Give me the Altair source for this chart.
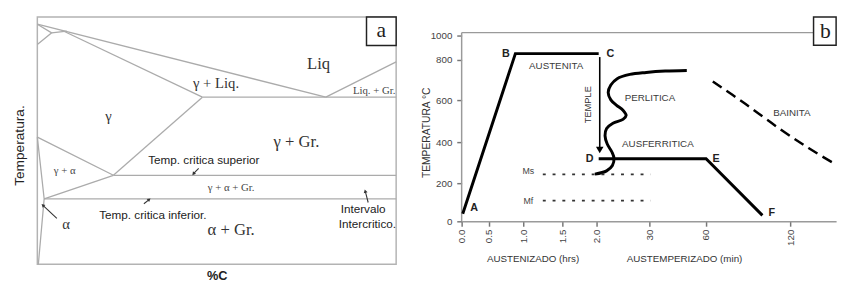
import altair as alt
import pandas as pd

SANS = "Liberation Sans"
SERIF = "Liberation Serif"

# ================= Panel a : Fe-C (graphite) phase diagram, schematic =================
# x = %C, y = temperature (schematic units)
A_LINES = {
    "liquidus":    ([0.00, 4.02], [1565, 1211]),
    "liq_grafito": ([4.02, 5.00], [1211, 1382]),
    "eutectica":   ([2.30, 5.00], [1211, 1211]),
    "delta":       ([0.00, 0.20, 0.00], [1565, 1523, 1467]),
    "peritectica": ([0.20, 0.41], [1523, 1531]),
    "solidus":     ([0.37, 2.30], [1531, 1211]),
    "acm":         ([2.30, 1.06], [1211, 832]),
    "a3":          ([0.00, 1.06], [1017, 832]),
    "critica_sup": ([1.06, 5.00], [832, 832]),
    "gamma_alfa":  ([1.06, 0.095], [832, 718]),
    "critica_inf": ([0.095, 5.00], [718, 718]),
    "solvus_alfa": ([0.00, 0.095, 0.014], [1017, 718, 400]),
}

A_BIG_TEXT = ["Liq", "γ + Gr.", "α + Gr."]
A_BIG_X = [3.92, 3.61, 2.70]
A_BIG_Y = [1372, 993, 566]

A_MID_TEXT = ["γ + Liq.", "γ", "α"]
A_MID_X = [2.49, 0.99, 0.40]
A_MID_Y = [1277, 1121, 594]

A_SMALL_TEXT = ["γ + α", "γ + α + Gr."]
A_SMALL_X = [0.38, 2.70]
A_SMALL_Y = [851, 770]

A_EDGE_TEXT = ["Liq. + Gr."]
A_EDGE_X = [4.99]
A_EDGE_Y = [1240]

A_SANS_TEXT = ["Temp. critica superior", "Temp. critica inferior.", "Intervalo", "Intercritico."]
A_SANS_X = [2.32, 1.61, 4.54, 4.60]
A_SANS_Y = [907, 637, 666, 594]

A_ARROW_TAIL_X = [0.272, 2.248, 1.485, 4.610]
A_ARROW_TAIL_Y = [623, 865, 694, 700]
A_ARROW_HEAD_X = [0.082, 2.180, 1.553, 4.571]
A_ARROW_HEAD_Y = [685, 841, 713, 753]
A_ARROW_ANGLE = [313, 219, 51, 345]

A_BOX_X = [4.587, 5.0]
A_BOX_Y = [1462, 1600]
A_BOX_LABEL = "a"

# ================= Panel b : heat treatment cycle =================
B_TICK_LABELS = ["0.0", "0.5", "1.0", "1.5", "2.0", "30", "60", "120"]
B_Y_TICKS = [0, 200, 400, 600, 800, 1000]

B_ABC_X = [0.04, 1.77, 4.04]
B_ABC_Y = [40, 852, 852]
B_DEF_X = [4.04, 6.00, 6.67]
B_DEF_Y = [319, 319, 31]

B_CURVE_X = [3.95, 4.19, 4.30, 4.33, 4.29, 4.20, 4.16, 4.19, 4.31, 4.50, 4.56,
             4.50, 4.38, 4.27, 4.22, 4.27, 4.39, 4.63, 4.94, 5.28, 5.66]
B_CURVE_Y = [244, 260, 286, 321, 352, 392, 431, 465, 490, 508, 527,
             552, 575, 601, 638, 675, 707, 728, 738, 745, 748]

B_BAINITA_X = [6.08, 6.47, 6.87, 7.22, 7.55]
B_BAINITA_Y = [693, 581, 465, 371, 290]

B_MS_X = [2.50, 5.02]
B_MS_Y = 243
B_MF_Y = 108

B_TEMPLE_X = 4.06
B_TEMPLE_Y = [824, 362]

B_POINT_TEXT = ["A", "B", "C", "D", "E", "F"]
B_POINT_X = [0.46, 1.49, 4.26, 3.80, 6.12, 6.78]
B_POINT_Y = [67, 848, 848, 319, 319, 41]

B_LABEL_TEXT = ["AUSTENITA", "PERLITICA", "AUSFERRITICA", "BAINITA"]
B_LABEL_X = [2.84, 5.01, 5.15, 7.02]
B_LABEL_Y = [772, 610, 390, 540]

B_M_TEXT = ["Ms", "Mf"]
B_M_X = [2.13, 2.13]
B_M_Y = [257, 108]

B_XTITLE_TEXT = ["AUSTENIZADO (hrs)", "AUSTEMPERIZADO (min)"]
B_XTITLE_X = [2.25, 5.62]

B_TOP_Y = 1024
B_BOX_X = [7.28, 7.55]
B_BOX_Y = [920, 1152]
B_BOX_LABEL = "b"

# ---------------- build panel a ----------------
rows = []
for name, (xs, ys) in A_LINES.items():
    for i, (x, y) in enumerate(zip(xs, ys)):
        rows.append({"seg": name, "i": i, "x": x, "y": y})
a_lines_df = pd.DataFrame(rows)

xa = alt.Scale(domain=[0, 5], nice=False, zero=False)
ya = alt.Scale(domain=[400, 1600], nice=False, zero=False)

XA = alt.X("x:Q", scale=xa, axis=alt.Axis(title="%C", labels=False, ticks=False, domain=False,
                                           grid=False, titleFont=SANS, titleFontSize=13,
                                           titleFontWeight="bold", titleColor="#222", titlePadding=6))
YA = alt.Y("y:Q", scale=ya, axis=alt.Axis(title="Temperatura.", labels=False, ticks=False, domain=False,
                                           grid=False, titleFont=SANS, titleFontSize=14,
                                           titleFontWeight="normal", titleColor="#222",
                                           titleX=-11, titleY=131, titleAngle=270,
                                           titleBaseline="bottom", titleAlign="center"))

a_lines = alt.Chart(a_lines_df).mark_line(color="#ababab", strokeWidth=1.3).encode(
    x=XA, y=YA, detail="seg:N", order="i:Q")


def text_layer(texts, xs, ys, xs_, ys_, **kw):
    df = pd.DataFrame({"t": texts, "x": xs, "y": ys})
    return alt.Chart(df).mark_text(**kw).encode(x=xs_, y=ys_, text="t:N")


xa_plain = alt.X("x:Q", scale=xa)
ya_plain = alt.Y("y:Q", scale=ya)

a_big = text_layer(A_BIG_TEXT, A_BIG_X, A_BIG_Y, xa_plain, ya_plain, font=SERIF, fontSize=17, color="#333")
a_mid = text_layer(A_MID_TEXT, A_MID_X, A_MID_Y, xa_plain, ya_plain, font=SERIF, fontSize=15, color="#333")
a_small = text_layer(A_SMALL_TEXT, A_SMALL_X, A_SMALL_Y, xa_plain, ya_plain, font=SERIF, fontSize=11, color="#444")
a_edge = text_layer(A_EDGE_TEXT, A_EDGE_X, A_EDGE_Y, xa_plain, ya_plain, font=SERIF, fontSize=11,
                    color="#444", align="right")
a_sans = text_layer(A_SANS_TEXT, A_SANS_X, A_SANS_Y, xa_plain, ya_plain, font=SANS, fontSize=12, color="#222")

arrow_df = pd.DataFrame({"x": A_ARROW_TAIL_X, "y": A_ARROW_TAIL_Y,
                         "x2": A_ARROW_HEAD_X, "y2": A_ARROW_HEAD_Y, "ang": A_ARROW_ANGLE})
a_arrow_lines = alt.Chart(arrow_df).mark_rule(color="#333", strokeWidth=1.1).encode(
    x=xa_plain, y=ya_plain, x2="x2:Q", y2="y2:Q")
a_arrow_heads = alt.Chart(arrow_df).mark_point(shape="triangle", filled=True, size=16, color="#333",
                                               opacity=1).encode(
    x=alt.X("x2:Q", scale=xa), y=alt.Y("y2:Q", scale=ya), angle=alt.Angle("ang:Q", scale=None))

abox_df = pd.DataFrame({"x": [A_BOX_X[0]], "x2": [A_BOX_X[1]], "y": [A_BOX_Y[0]], "y2": [A_BOX_Y[1]],
                        "t": [A_BOX_LABEL], "cx": [sum(A_BOX_X) / 2], "cy": [sum(A_BOX_Y) / 2]})
a_box = alt.Chart(abox_df).mark_rect(fill="white", stroke="#222", strokeWidth=1.5).encode(
    x=xa_plain, x2="x2:Q", y=ya_plain, y2="y2:Q")
a_box_t = alt.Chart(abox_df).mark_text(font=SERIF, fontSize=22, color="#222", baseline="middle", dy=-1).encode(
    x=alt.X("cx:Q", scale=xa), y=alt.Y("cy:Q", scale=ya), text="t:N")

panel_a = alt.layer(a_lines, a_big, a_mid, a_small, a_edge, a_sans, a_arrow_lines, a_arrow_heads,
                    a_box, a_box_t).properties(
    width=367, height=253,
    view=alt.ViewBackground(stroke="#b3b3b3", strokeWidth=1.5))

# ---------------- build panel b ----------------
XB_DOMAIN = [0, 1, 2, 3, 4, 5, 6, 7, 7.55]
XB_RANGE = [0, 28, 63, 103, 138, 192, 250, 336, 383]
YB_DOMAIN = [0, 200, 400, 600, 800, 1000, 1152]
YB_RANGE = [209, 170, 128, 85, 44, 19, 0]

xb = alt.Scale(type="linear", domain=XB_DOMAIN, range=XB_RANGE, nice=False, zero=False)
yb = alt.Scale(type="linear", domain=YB_DOMAIN, range=YB_RANGE, nice=False, zero=False)

label_expr = "[" + ",".join("'%s'" % t for t in B_TICK_LABELS) + "][datum.value]"

XB = alt.X("x:Q", scale=xb, title=None,
           axis=alt.Axis(values=list(range(len(B_TICK_LABELS))), labelExpr=label_expr, labelAngle=270,
                         labelFont=SANS, labelFontSize=10, labelColor="#444", labelPadding=3,
                         tickSize=5, tickColor="#777", tickWidth=1.5, domainColor="#9a9a9a",
                         domainWidth=1.5, grid=False))
YB = alt.Y("y:Q", scale=yb,
           axis=alt.Axis(values=B_Y_TICKS, format="d", title="TEMPERATURA °C", titleFont=SANS,
                         titleFontSize=10.5, titleFontWeight="normal", titleColor="#333",
                         titleX=-31, titleY=118, titleAngle=270, titleBaseline="bottom",
                         titleAlign="center", labelFont=SANS, labelFontSize=10, labelColor="#444",
                         labelPadding=5, tickSize=5, tickColor="#777", tickWidth=1.5, domain=False,
                         grid=False))

xb_plain = alt.X("x:Q", scale=xb)
yb_plain = alt.Y("y:Q", scale=yb)


def path_df(xs, ys):
    return pd.DataFrame({"x": xs, "y": ys, "i": list(range(len(xs)))})


b_frame_left = alt.Chart(pd.DataFrame({"x": [0], "y": [0], "y2": [B_TOP_Y]})).mark_rule(
    color="#9a9a9a", strokeWidth=1.5).encode(x=XB, y=YB, y2="y2:Q")
b_frame_top = alt.Chart(pd.DataFrame({"x": [0], "x2": [B_BOX_X[0]], "y": [B_TOP_Y]})).mark_rule(
    color="#9a9a9a", strokeWidth=1.5).encode(x=xb_plain, x2="x2:Q", y=yb_plain)

b_abc = alt.Chart(path_df(B_ABC_X, B_ABC_Y)).mark_line(color="black", strokeWidth=3).encode(
    x=xb_plain, y=yb_plain, order="i:Q")
b_def = alt.Chart(path_df(B_DEF_X, B_DEF_Y)).mark_line(color="black", strokeWidth=3).encode(
    x=xb_plain, y=yb_plain, order="i:Q")
b_curve = alt.Chart(path_df(B_CURVE_X, B_CURVE_Y)).mark_line(
    color="black", strokeWidth=3, interpolate="catmull-rom").encode(x=xb_plain, y=yb_plain, order="i:Q")
b_bainita = alt.Chart(path_df(B_BAINITA_X, B_BAINITA_Y)).mark_line(
    color="black", strokeWidth=2.5, strokeDash=[11, 6], interpolate="catmull-rom").encode(
    x=xb_plain, y=yb_plain, order="i:Q")

m_df = pd.DataFrame({"x": [B_MS_X[0], B_MS_X[0]], "x2": [B_MS_X[1], B_MS_X[1]], "y": [B_MS_Y, B_MF_Y]})
b_m_lines = alt.Chart(m_df).mark_rule(color="#333", strokeWidth=1.8, strokeDash=[3, 7]).encode(
    x=xb_plain, x2="x2:Q", y=yb_plain)

temple_df = pd.DataFrame({"x": [B_TEMPLE_X], "y": [B_TEMPLE_Y[0]], "y2": [B_TEMPLE_Y[1]]})
b_temple = alt.Chart(temple_df).mark_rule(color="black", strokeWidth=1.6).encode(
    x=xb_plain, y=yb_plain, y2="y2:Q")
b_temple_head = alt.Chart(temple_df).mark_point(shape="triangle-down", filled=True, size=60,
                                                color="black", opacity=1).encode(
    x=xb_plain, y=alt.Y("y2:Q", scale=yb))
b_temple_t = alt.Chart(pd.DataFrame({"t": ["TEMPLE"], "x": [3.74], "y": [578]})).mark_text(
    font=SANS, fontSize=9.5, color="#333", angle=270).encode(x=xb_plain, y=yb_plain, text="t:N")

b_points = text_layer(B_POINT_TEXT, B_POINT_X, B_POINT_Y, xb_plain, yb_plain, font=SANS, fontSize=11,
                      fontWeight="bold", color="#222")
b_labels = text_layer(B_LABEL_TEXT, B_LABEL_X, B_LABEL_Y, xb_plain, yb_plain, font=SANS, fontSize=10,
                      color="#3a3a3a")
b_m = text_layer(B_M_TEXT, B_M_X, B_M_Y, xb_plain, yb_plain, font=SANS, fontSize=9, color="#444")

xt_df = pd.DataFrame({"t": B_XTITLE_TEXT, "x": B_XTITLE_X})
b_xtitles = alt.Chart(xt_df).mark_text(font=SANS, fontSize=10, color="#333").encode(
    x=xb_plain, y=alt.value(248), text="t:N")

bbox_df = pd.DataFrame({"x": [B_BOX_X[0]], "x2": [B_BOX_X[1]], "y": [B_BOX_Y[0]], "y2": [B_BOX_Y[1]],
                        "t": [B_BOX_LABEL], "cx": [7.42], "cy": [1032]})
b_box = alt.Chart(bbox_df).mark_rect(fill="white", stroke="#222", strokeWidth=1.5).encode(
    x=xb_plain, x2="x2:Q", y=yb_plain, y2="y2:Q")
b_box_t = alt.Chart(bbox_df).mark_text(font=SERIF, fontSize=22, color="#222", baseline="middle", dy=-1).encode(
    x=alt.X("cx:Q", scale=xb), y=alt.Y("cy:Q", scale=yb), text="t:N")

panel_b = alt.layer(b_frame_left, b_frame_top, b_abc, b_def, b_curve, b_bainita, b_m_lines, b_temple,
                    b_temple_head, b_temple_t, b_points, b_labels, b_m, b_xtitles, b_box, b_box_t).properties(
    width=383, height=209)

chart = alt.hconcat(panel_a, panel_b, spacing=22).properties(
    padding={"left": 4, "top": 4, "right": 0, "bottom": 0}
).configure_view(strokeWidth=0)

chart.save("out.html", embed_options={"renderer": "svg", "actions": False})
